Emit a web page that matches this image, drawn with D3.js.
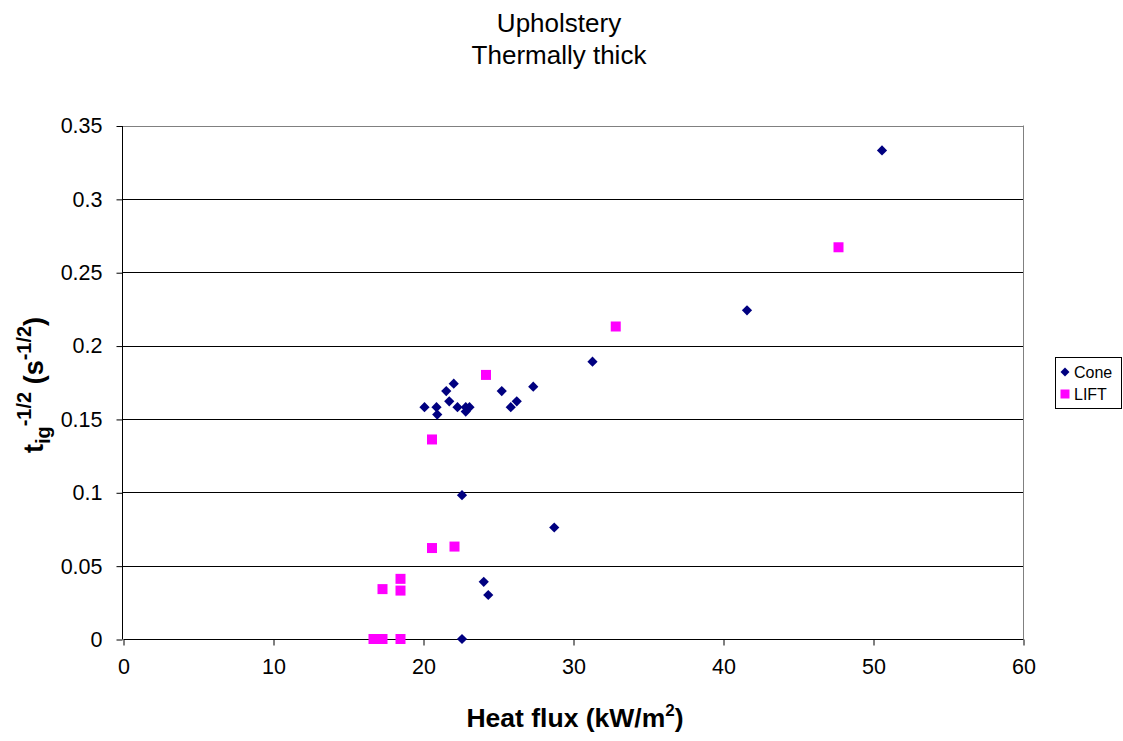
<!DOCTYPE html>
<html><head><meta charset="utf-8">
<script src="https://cdn.jsdelivr.net/npm/d3@7"></script>
<style>body{margin:0;background:#fff}svg{display:block}</style>
</head><body>
<script>
const coneX = [20.1, 20.9, 20.95, 21.55, 22.05, 21.75, 22.3, 22.85, 23.1, 22.85, 25.25, 25.85, 26.25, 27.35, 31.3, 41.6, 50.6, 22.6, 28.75, 24.05, 24.35, 22.6];
const coneY = [0.158, 0.158, 0.153, 0.169, 0.174, 0.162, 0.158, 0.158, 0.158, 0.155, 0.169, 0.158, 0.162, 0.172, 0.189, 0.224, 0.333, 0.098, 0.076, 0.039, 0.030, 0];
const liftX = [24.2, 20.6, 32.85, 47.7, 20.6, 22.1, 18.5, 17.3, 18.5, 16.7, 17.3, 18.5];
const liftY = [0.180, 0.136, 0.213, 0.267, 0.062, 0.063, 0.041, 0.034, 0.033, 0, 0, 0];
const xTicks = [0, 10, 20, 30, 40, 50, 60];
const yTicks = [0, 0.05, 0.1, 0.15, 0.2, 0.25, 0.3, 0.35];
const seriesNames = ["Cone", "LIFT"];
const seriesColors = ["#000080", "#FF00FF"];

const W = 1123, H = 741;
const M = {left: 123, right: 1023, top: 125.5, bottom: 639};
const svg = d3.select("body").append("svg").attr("width", W).attr("height", H)
  .style("font-family", "Arial, 'Liberation Sans', sans-serif");

const x = d3.scaleLinear().domain([0, 60]).range([M.left, M.right]);
const y = d3.scaleLinear().domain([0, 0.35]).range([M.bottom, M.top]);

// gridlines
svg.append("g").selectAll("line").data(yTicks.filter(d => d > 0 && d < 0.35)).join("line")
  .attr("x1", M.left).attr("x2", M.right)
  .attr("y1", d => Math.round(y(d)) + 0.5).attr("y2", d => Math.round(y(d)) + 0.5)
  .attr("stroke", "#000").attr("stroke-width", 1);
// plot border top/right gray
svg.append("line").attr("x1", M.left).attr("x2", M.right + 0.5)
  .attr("y1", Math.round(y(0.35)) + 0.5).attr("y2", Math.round(y(0.35)) + 0.5)
  .attr("stroke", "#808080");
svg.append("line").attr("x1", M.right + 0.5).attr("x2", M.right + 0.5)
  .attr("y1", y(0.35)).attr("y2", M.bottom).attr("stroke", "#808080");

// axes
const xAxis = d3.axisBottom(x).tickValues(xTicks).tickSize(6).tickPadding(13).tickFormat(d3.format("d"));
const gx = svg.append("g").attr("transform", `translate(0.5,${Math.round(M.bottom) + 0.5})`).call(xAxis);
gx.select(".domain").attr("d", `M${M.left},0H${M.right}`).attr("stroke", "#000");
gx.selectAll(".tick line").attr("stroke", "#000");
gx.selectAll("text").attr("font-size", 21.5).attr("fill", "#000").attr("font-family", "Arial, 'Liberation Sans', sans-serif");

const yAxis = d3.axisLeft(y).tickValues(yTicks).tickSize(6).tickPadding(14)
  .tickFormat(d => d === 0 ? "0" : String(+d.toFixed(2)));
const gy = svg.append("g").attr("transform", `translate(${M.left - 0.5},0.5)`).call(yAxis);
gy.select(".domain").attr("d", `M0,${M.bottom}V${M.top}`).attr("stroke", "#000");
gy.selectAll(".tick line").attr("stroke", "#000");
gy.selectAll("text").attr("font-size", 21.5).attr("fill", "#000").attr("font-family", "Arial, 'Liberation Sans', sans-serif");

// points
const cone = coneX.map((v, i) => ({x: v, y: coneY[i]}));
const lift = liftX.map((v, i) => ({x: v, y: liftY[i]}));
const diamond = d3.symbol().type(d3.symbolSquare).size(52)();
svg.append("g").selectAll("path").data(cone).join("path")
  .attr("d", diamond)
  .attr("transform", d => `translate(${x(d.x)},${y(d.y)}) rotate(45)`)
  .attr("fill", seriesColors[0]);
svg.append("g").selectAll("rect").data(lift).join("rect")
  .attr("x", d => x(d.x) - 5).attr("y", d => y(d.y) - 5)
  .attr("width", 10).attr("height", 10)
  .attr("fill", seriesColors[1]);

// title
const title = svg.append("text").attr("x", 559).attr("text-anchor", "middle")
  .attr("font-size", 26).attr("fill", "#000");
title.append("tspan").attr("x", 559).attr("y", 32).text("Upholstery");
title.append("tspan").attr("x", 559).attr("y", 64).text("Thermally thick");

// x title
const xt = svg.append("text").attr("x", 575).attr("y", 727).attr("text-anchor", "middle")
  .attr("font-size", 26.5).attr("font-weight", "bold").attr("fill", "#000");
xt.append("tspan").text("Heat flux (kW/m");
xt.append("tspan").attr("font-size", 17).attr("dy", -11).text("2");
xt.append("tspan").attr("dy", 11).text(")");

// y title
const yt = svg.append("text").attr("transform", "translate(43,385) rotate(-90)")
  .attr("text-anchor", "middle").attr("font-size", 27).attr("font-weight", "bold").attr("fill", "#000");
yt.append("tspan").text("t");
yt.append("tspan").attr("font-size", 20).attr("dy", 7).text("ig");
yt.append("tspan").attr("font-size", 20).attr("dy", -19).text("-1/2");
yt.append("tspan").attr("dy", 12).text(" (s");
yt.append("tspan").attr("font-size", 20).attr("dy", -12).text("-1/2");
yt.append("tspan").attr("dy", 12).text(")");

// legend
const lg = svg.append("g");
lg.append("rect").attr("x", 1055.5).attr("y", 357.5).attr("width", 66).attr("height", 51)
  .attr("fill", "#fff").attr("stroke", "#000");
const items = lg.selectAll("g.item").data(seriesNames).join("g").attr("class", "item")
  .attr("transform", (d, i) => `translate(0,${i * 22})`);
items.append("path").attr("d", (d, i) => i === 0 ? d3.symbol().type(d3.symbolSquare).size(40)() : d3.symbol().type(d3.symbolSquare).size(81)())
  .attr("transform", (d, i) => `translate(1065,372)` + (i === 0 ? " rotate(45)" : ""))
  .attr("fill", (d, i) => seriesColors[i]);
items.append("text").attr("x", 1074).attr("y", 377.5).attr("font-size", 16).attr("fill", "#000").text(d => d);
</script>
</body></html>
